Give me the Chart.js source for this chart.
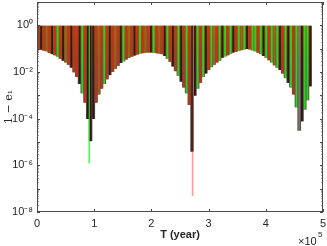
<!DOCTYPE html>
<html>
<head>
<meta charset="utf-8">
<script src="https://cdn.jsdelivr.net/npm/chart.js@4.4.0/dist/chart.umd.min.js"></script>
<style>
  html, body { margin: 0; padding: 0; background: #fff; }
  #wrap { width: 327px; height: 246px; }
</style>
</head>
<body>
<div id="wrap"><canvas id="myChart"></canvas></div>
<script>
// sampling of the oscillation minima (years between stripes)
const stripeStep = 4800;
// upper edge of the oscillations, 1 - e1
const upperValue = 0.93;
// log10 of the minimum of 1 - e1 in each stripe
const lowExp = [
  -1.00, -1.03, -1.07, -1.10, -1.17, -1.22, -1.27, -1.33, -1.42, -1.50,
  -1.58, -1.68, -1.80, -2.00, -2.20, -2.50, -2.90, -3.30, -4.00, -4.95,
  -4.00, -3.30, -2.95, -2.70, -2.50, -2.30, -2.12, -1.98, -1.85, -1.72,
  -1.60, -1.53, -1.45, -1.38, -1.33, -1.28, -1.24, -1.20, -1.18, -1.16,
  -1.15, -1.15, -1.16, -1.18, -1.20, -1.22, -1.30, -1.42, -1.55, -1.75,
  -1.95, -2.15, -2.40, -2.65, -2.90, -3.40, -5.40, -3.00, -2.70, -2.45,
  -2.20, -2.05, -1.90, -1.78, -1.68, -1.58, -1.50, -1.38, -1.32, -1.27,
  -1.20, -1.15, -1.12, -1.08, -1.05, -1.02, -1.00, -1.02, -1.06, -1.10,
  -1.16, -1.22, -1.30, -1.38, -1.48, -1.58, -1.70, -1.80, -1.90, -2.05,
  -2.25, -2.45, -2.65, -2.95, -3.50, -4.50, -4.10, -3.60, -3.20, -2.60
];
// colour of each stripe: r red, g green, k dark, s grey, o orange
const stripeColors =
  "rkrorkrgrkorkrrkgrkk" +
  "krorgrkrorkgrorkrgro" +
  "rkgrorkgrkrgkrgrkkgr" +
  "gkrgorgkgrgkrgogkrgg" +
  "rgkgrgogkrgkgrgskggk";
// the two deep single spikes
const spikeT = [91400, 272000];
const spikeExp = [-5.9, -7.3];
const spikeColors = ["#5cf05c", "#ff9c9c"];

const xTickValues = [0, 1, 2, 3, 4, 5];
const yTickExp = [0, -2, -4, -6, -8];

const palette = {
  r: "rgba(226,36,14,0.85)",
  g: "rgba(40,228,30,0.85)",
  k: "rgba(40,14,10,0.85)",
  s: "rgba(125,125,125,0.85)",
  o: "rgba(170,100,24,0.85)",
};

const supMap = { "-": "\u207B", "0": "\u2070", "2": "\u00B2", "4": "\u2074", "6": "\u2076", "8": "\u2078" };
function toSup(n) {
  return String(n).split("").map((c) => supMap[c]).join("");
}

const stripeData = lowExp.map((e, i) => ({
  x: (i + 0.5) * stripeStep,
  y: [Math.pow(10, e), upperValue],
}));
const spikeData = spikeT.map((t, i) => ({
  x: t,
  y: [Math.pow(10, spikeExp[i]), upperValue],
}));

function baseFill(context) {
  const area = context.chart.chartArea;
  if (!area) return "#6a5530";
  const g = context.chart.ctx.createLinearGradient(0, area.top, 0, area.bottom);
  g.addColorStop(0.0, "#8e5a1e");
  g.addColorStop(0.13, "#8a5a20");
  g.addColorStop(0.22, "#705a2c");
  g.addColorStop(0.35, "#5c5444");
  g.addColorStop(1.0, "#4a3c34");
  return g;
}

const frameAndTicks = {
  id: "frameAndTicks",
  afterDraw(chart) {
    const { ctx, chartArea: a } = chart;
    const x = chart.scales.x;
    const y = chart.scales.y;
    ctx.save();
    ctx.strokeStyle = "#4a4a4a";
    ctx.lineWidth = 1;
    ctx.strokeRect(a.left + 0.5, a.top + 0.5, a.right - a.left - 1, a.bottom - a.top - 1);
    ctx.beginPath();
    xTickValues.forEach((v) => {
      const px = Math.round(x.getPixelForValue(v * 1e5)) + 0.5;
      ctx.moveTo(px, a.bottom); ctx.lineTo(px, a.bottom - 3);
      ctx.moveTo(px, a.top); ctx.lineTo(px, a.top + 3);
    });
    for (let e = -8; e <= 0; e++) {
      for (let m = 1; m <= 9; m++) {
        const py = Math.round(y.getPixelForValue(m * Math.pow(10, e))) + 0.5;
        const len = m === 1 ? 3 : 1.5;
        ctx.moveTo(a.left, py); ctx.lineTo(a.left + len, py);
        ctx.moveTo(a.right, py); ctx.lineTo(a.right - len, py);
      }
    }
    ctx.stroke();
    ctx.fillStyle = "#262626";
    ctx.textBaseline = "alphabetic";
    ctx.textAlign = "left";
    ctx.font = '11px "Liberation Sans"';
    ctx.fillText("\u00D710", 298, 245);
    ctx.font = '8px "Liberation Sans"';
    ctx.fillText("5", 318, 237);
    ctx.restore();
  },
};

const config = {
  type: "bar",
  data: {
    datasets: [
      {
        label: "base",
        data: stripeData,
        backgroundColor: baseFill,
        barThickness: 3,
        grouped: false,
        order: 3,
      },
      {
        label: "spikes",
        data: spikeData,
        backgroundColor: spikeColors,
        barThickness: 1,
        grouped: false,
        order: 2,
      },
      {
        label: "stripes",
        data: stripeData,
        backgroundColor: stripeColors.split("").map((c) => palette[c]),
        barThickness: 1.2,
        grouped: false,
        order: 1,
      },
    ],
  },
  options: {
    responsive: true,
    maintainAspectRatio: false,
    animation: false,
    layout: { padding: { top: 2, right: 4, left: 0, bottom: 0 } },
    plugins: { legend: { display: false }, tooltip: { enabled: false } },
    scales: {
      x: {
        type: "linear",
        offset: false,
        min: 0,
        max: 5e5,
        grid: { display: false, drawTicks: false, offset: false },
        border: { display: false },
        afterBuildTicks: (s) => { s.ticks = xTickValues.map((v) => ({ value: v * 1e5 })); },
        afterFit: (s) => { s.height = 34; s.paddingLeft = 0; s.paddingRight = 0; },
        ticks: {
          padding: 5,
          maxRotation: 0,
          color: "#262626",
          font: { family: "Liberation Sans", size: 11 },
          callback: (v) => String(v / 1e5),
        },
        title: {
          display: true,
          text: "T (year)",
          color: "#262626",
          padding: { top: 0, bottom: 4 },
          font: { family: "Liberation Sans", size: 11, weight: "bold" },
        },
      },
      y: {
        type: "logarithmic",
        min: 1e-8,
        max: 10,
        grid: { display: false, drawTicks: false },
        border: { display: false },
        afterBuildTicks: (s) => { s.ticks = yTickExp.map((e) => ({ value: Math.pow(10, e) })); },
        afterFit: (s) => { s.width = 37; s.paddingTop = 0; s.paddingBottom = 0; },
        ticks: {
          padding: 4,
          color: "#262626",
          font: { family: "Liberation Sans", size: 11 },
          callback: (v) => "10" + toSup(Math.round(Math.log10(v))),
        },
        title: {
          display: true,
          text: "1 \u2212 e\u2081",
          color: "#262626",
          padding: { top: 3, bottom: 0 },
          font: { family: "DejaVu Serif", size: 11 },
        },
      },
    },
  },
  plugins: [frameAndTicks],
};

const myChart = new Chart(document.getElementById("myChart"), config);
</script>
</body>
</html>
